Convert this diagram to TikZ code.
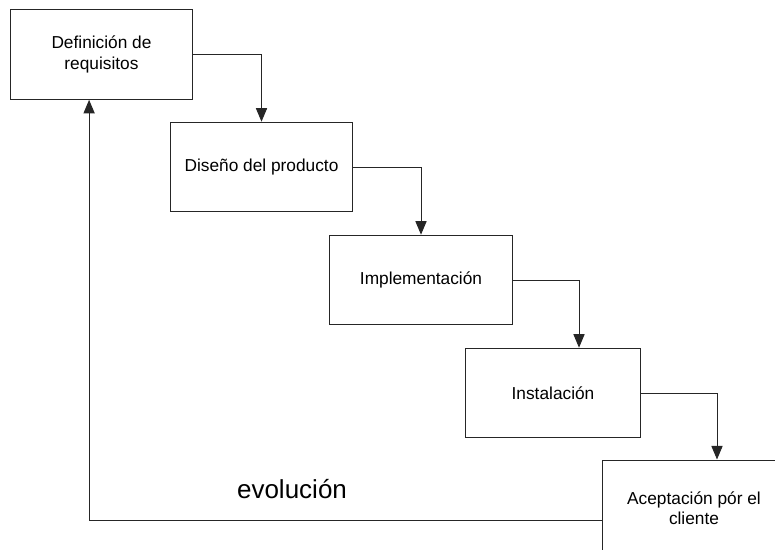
\documentclass[tikz,border=0pt]{standalone}
\usepackage{fontspec}
\setmainfont{Liberation Sans}
\usetikzlibrary{arrows.meta, positioning, calc}
\tikzset{
  phasebox/.style={rectangle, draw=black!85, line width=0.7pt, minimum width=4.55cm, minimum height=2.24cm, font=\fontsize{12.3}{14.5}\selectfont, align=center, inner sep=2pt},
  arrow/.style={-{Triangle[length=0.34cm, width=0.28cm]}, line width=0.7pt, black!85}
}
\begin{document}
\begin{tikzpicture}[x=0.025cm, y=-0.025cm]
  \clip (0,0) rectangle (775,549);
  \useasboundingbox (0,0) rectangle (775,549);

  % Phases
  \node[phasebox] (requisitos) at (101.5,54.5) {Definición de\\requisitos};
  \node[phasebox] (diseno) at (261.5,167) {Diseño del producto};
  \node[phasebox] (implementacion) at (421,280) {Implementación};
  \node[phasebox, minimum width=4.35cm] (instalacion) at (553,393) {Instalación};
  \node[phasebox, minimum width=5cm, minimum height=2.4cm] (aceptacion) at (703,508) {Aceptación pór el\hspace*{0.45cm}\\cliente\hspace*{0.45cm}};

  % Flow
  \draw[arrow] (requisitos.east) -| (diseno.north);
  \draw[arrow] (diseno.east) -| (implementacion.north);
  \draw[arrow] (implementacion.east) -| ([xshift=0.65cm]instalacion.north);
  \draw[arrow] (instalacion.east) -| ([xshift=0.35cm]aceptacion.north);

  % Feedback
  \draw[arrow] ([yshift=-0.3cm]aceptacion.west) -| ([xshift=-0.31cm]requisitos.south);
  \node[font=\fontsize{18.5}{22}\selectfont] (evolucion) at (292,489) {evolución};
\end{tikzpicture}
\end{document}
